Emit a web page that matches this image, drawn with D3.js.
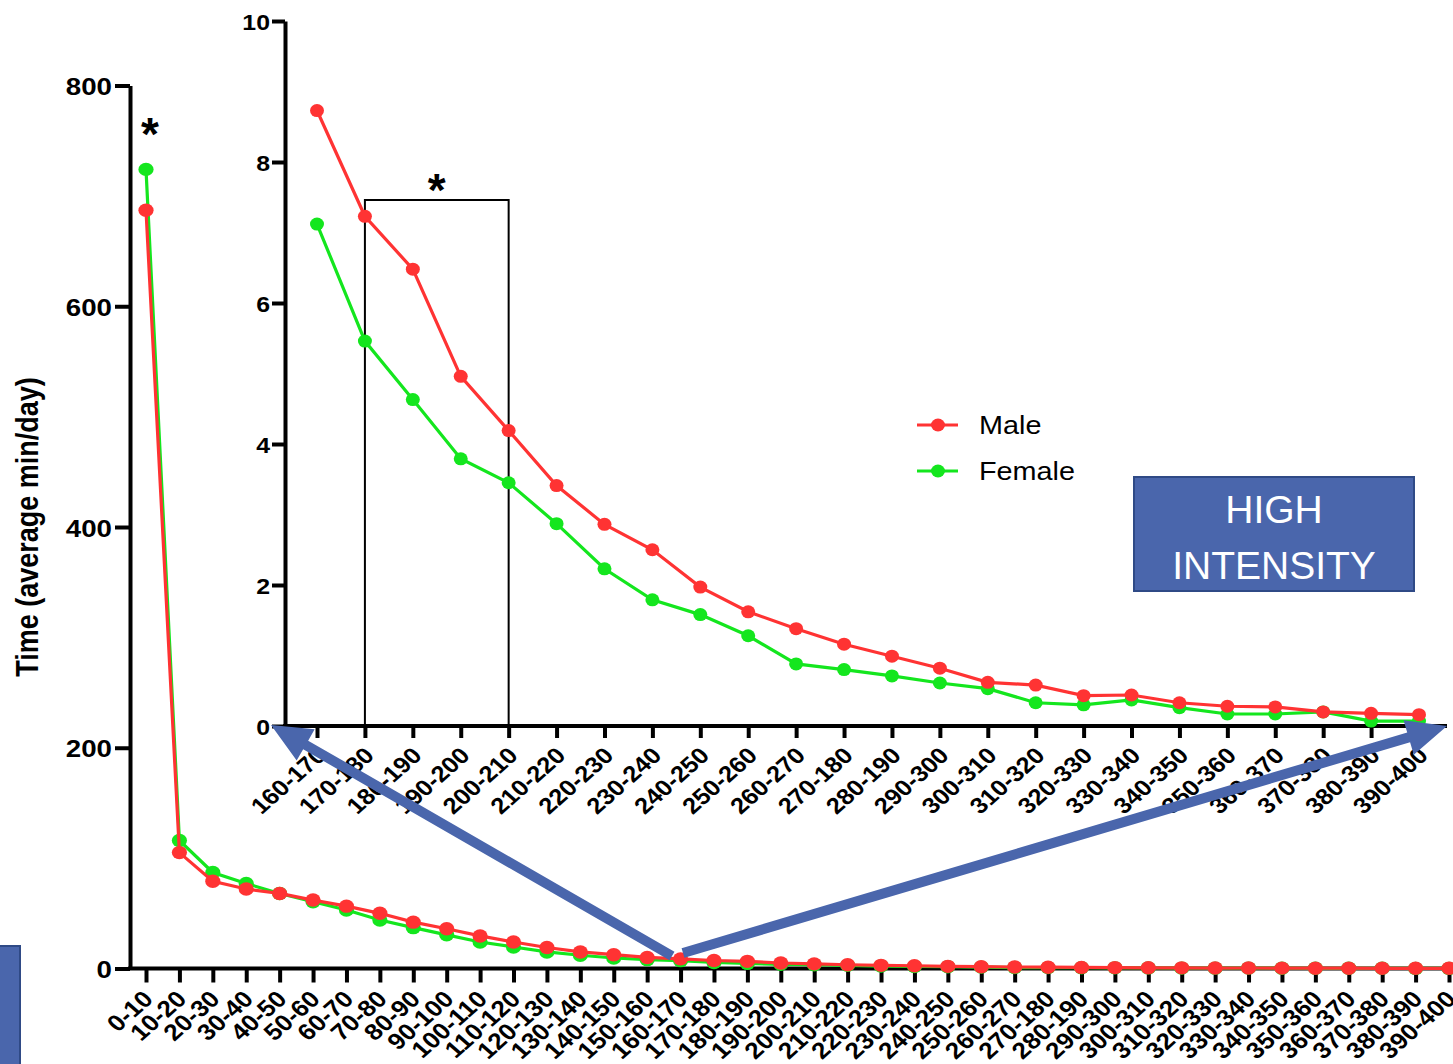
<!DOCTYPE html>
<html><head><meta charset="utf-8">
<script src="https://cdn.jsdelivr.net/npm/d3@7"></script>
<style>
body{margin:0;background:#fff}
svg{display:block}
text{font-family:"Liberation Sans",Arial,Helvetica,sans-serif}
</style>
</head><body>
<svg id="c" width="1453" height="1064"></svg>
<script>
const mainCategories = ["0-10","10-20","20-30","30-40","40-50","50-60","60-70","70-80","80-90","90-100","100-110","110-120","120-130","130-140","140-150","150-160","160-170","170-180","180-190","190-200","200-210","210-220","220-230","230-240","240-250","250-260","260-270","270-180","280-190","290-300","300-310","310-320","320-330","330-340","340-350","350-360","360-370","370-380","380-390","390-400"];
const insetCategories = mainCategories.slice(16);
const maleLow   = [687, 105, 79, 72, 68, 62, 56.5, 50, 42, 36, 29.5, 24, 19, 15, 12.5, 10];
const femaleLow = [724, 116, 87, 77, 68, 60.5, 53, 44, 37, 30.5, 24, 19.5, 15, 12, 9.5, 8];
const maleInset   = [8.73, 7.23, 6.48, 4.96, 4.19, 3.41, 2.86, 2.5, 1.97, 1.62, 1.38, 1.16, 0.99, 0.82, 0.62, 0.58, 0.43, 0.44, 0.33, 0.28, 0.27, 0.2, 0.18, 0.16];
const femaleInset = [7.12, 5.46, 4.63, 3.79, 3.45, 2.87, 2.23, 1.79, 1.58, 1.28, 0.88, 0.8, 0.71, 0.61, 0.53, 0.33, 0.3, 0.37, 0.26, 0.17, 0.17, 0.2, 0.07, 0.07];
const mainYTicks = [0, 200, 400, 600, 800];
const insetYTicks = [0, 2, 4, 6, 8, 10];
const seriesNames = ["Male", "Female"];
const seriesColors = {Male: "#ff3333", Female: "#14e61e"};
const yTitle = "Time (average min/day)";
const boxLines = ["HIGH", "INTENSITY"];

const maleMain = maleLow.concat(maleInset);
const femaleMain = femaleLow.concat(femaleInset);
const SX = 1.13; // horizontal stretch of the original figure

const svg = d3.select("#c");

// ---------- main chart ----------
const xM = d3.scalePoint().domain(mainCategories).range([146, 1449]);
const yM = d3.scaleLinear().domain([0, 800]).range([968.5, 85.5]);

const gMain = svg.append("g");
const yAxM = gMain.append("g").attr("transform", "translate(130,0)")
  .call(d3.axisLeft(yM).tickValues(mainYTicks).tickSize(15).tickSizeOuter(0).tickPadding(4));
yAxM.select(".domain").attr("stroke", "#000").attr("stroke-width", 4);
yAxM.selectAll(".tick line").attr("stroke", "#000").attr("stroke-width", 4);
yAxM.selectAll(".tick text").attr("font-size", 24.5).attr("font-weight", "bold").attr("fill", "#000")
  .attr("x", null).attr("dy", null)
  .attr("transform", "translate(-18,9) scale(" + SX + ",1)");
gMain.append("line").attr("x1", 128).attr("x2", 1453).attr("y1", 968.5).attr("y2", 968.5)
  .attr("stroke", "#000").attr("stroke-width", 4);
const xAxM = gMain.append("g").attr("transform", "translate(0,968.5)")
  .call(d3.axisBottom(xM).tickSize(14).tickSizeOuter(0));
xAxM.select(".domain").remove();
xAxM.selectAll(".tick line").attr("stroke", "#000").attr("stroke-width", 4);
xAxM.selectAll(".tick text").attr("font-size", 23).attr("font-weight", "bold").attr("fill", "#000")
  .attr("y", 0).attr("dy", 0).attr("text-anchor", "end")
  .attr("transform", "translate(8,32) scale(" + SX + ",1) rotate(-45)");

svg.append("text").attr("font-size", 27).attr("font-weight", "bold").attr("text-anchor", "middle")
  .attr("transform", "translate(38,527) scale(" + SX + ",1) rotate(-90)").text(yTitle);

function drawSeries(g, x, y, cats, vals, color, rx, ry) {
  const data = cats.map((c, i) => ({c, v: vals[i]}));
  g.append("path").datum(data)
    .attr("d", d3.line().x(d => x(d.c)).y(d => y(d.v)))
    .attr("fill", "none").attr("stroke", color).attr("stroke-width", 3.2);
  g.selectAll(null).data(data).enter().append("ellipse")
    .attr("cx", d => x(d.c)).attr("cy", d => y(d.v)).attr("rx", rx).attr("ry", ry)
    .attr("fill", color);
}
drawSeries(gMain, xM, yM, mainCategories, femaleMain, seriesColors.Female, 7.6, 6.7);
drawSeries(gMain, xM, yM, mainCategories, maleMain, seriesColors.Male, 7.6, 6.7);

svg.append("text").attr("x", xM("0-10") + 4).attr("y", 150).attr("font-size", 46).attr("font-weight", "bold")
  .attr("text-anchor", "middle").text("*");

// ---------- inset ----------
const xI = d3.scalePoint().domain(insetCategories).range([317, 1419]);
const yI = d3.scaleLinear().domain([0, 10]).range([726, 21]);
const gIn = svg.append("g");
const yAxI = gIn.append("g").attr("transform", "translate(285,0)")
  .call(d3.axisLeft(yI).tickValues(insetYTicks).tickSize(13).tickSizeOuter(0).tickPadding(3));
yAxI.select(".domain").attr("stroke", "#000").attr("stroke-width", 4);
yAxI.selectAll(".tick line").attr("stroke", "#000").attr("stroke-width", 4);
yAxI.selectAll(".tick text").attr("font-size", 22).attr("font-weight", "bold").attr("fill", "#000")
  .attr("x", null).attr("dy", null)
  .attr("transform", "translate(-15,8) scale(" + SX + ",1)");
gIn.append("line").attr("x1", 283).attr("x2", 1447).attr("y1", 726).attr("y2", 726)
  .attr("stroke", "#000").attr("stroke-width", 4);
const xAxI = gIn.append("g").attr("transform", "translate(0,726)")
  .call(d3.axisBottom(xI).tickSize(12).tickSizeOuter(0));
xAxI.select(".domain").remove();
xAxI.selectAll(".tick line").attr("stroke", "#000").attr("stroke-width", 4);
xAxI.selectAll(".tick text").attr("font-size", 22.5).attr("font-weight", "bold").attr("fill", "#000")
  .attr("y", 0).attr("dy", 0).attr("text-anchor", "end")
  .attr("transform", "translate(10,31) scale(" + SX + ",1) rotate(-45)");

gIn.append("path")
  .attr("d", `M${xI("170-180")},${yI(0)} V200 H${xI("200-210")} V${yI(0)}`)
  .attr("fill", "none").attr("stroke", "#000").attr("stroke-width", 2);
gIn.append("text").attr("x", (xI("170-180") + xI("200-210")) / 2).attr("y", 206)
  .attr("font-size", 46).attr("font-weight", "bold").attr("text-anchor", "middle").text("*");

drawSeries(gIn, xI, yI, insetCategories, femaleInset, seriesColors.Female, 7, 6.5);
drawSeries(gIn, xI, yI, insetCategories, maleInset, seriesColors.Male, 7, 6.5);

seriesNames.forEach((s, i) => {
  const y = 425 + i * 46;
  const g = svg.append("g");
  g.append("line").attr("x1", 917).attr("x2", 958).attr("y1", y).attr("y2", y)
    .attr("stroke", seriesColors[s]).attr("stroke-width", 3);
  g.append("ellipse").attr("cx", 938).attr("cy", y).attr("rx", 7).attr("ry", 6.5).attr("fill", seriesColors[s]);
  g.append("text").attr("transform", `translate(979,${y + 9}) scale(${SX},1)`)
    .attr("font-size", 25.5).attr("fill", "#000").text(s);
});

// ---------- annotations ----------
const blue = "#4a66ac";
function arrow(x0, y0, x1, y1, w, hl, hw) {
  const dx = x1 - x0, dy = y1 - y0, L = Math.hypot(dx, dy);
  const ux = dx / L, uy = dy / L, nx = -uy, ny = ux;
  const bx = x1 - ux * hl, by = y1 - uy * hl;
  const pts = [
    [x0 + nx * w / 2, y0 + ny * w / 2], [bx + nx * w / 2, by + ny * w / 2],
    [bx + nx * hw / 2, by + ny * hw / 2], [x1, y1],
    [bx - nx * hw / 2, by - ny * hw / 2], [bx - nx * w / 2, by - ny * w / 2],
    [x0 - nx * w / 2, y0 - ny * w / 2]];
  svg.append("polygon").attr("points", pts.map(p => p.join(",")).join(" ")).attr("fill", blue);
}
arrow(672, 956, 271, 725, 10, 40, 36);
arrow(683, 953, 1447, 726, 10, 40, 36);

svg.append("rect").attr("x", 1134).attr("y", 477).attr("width", 280).attr("height", 114)
  .attr("fill", blue).attr("stroke", "#2f4a86").attr("stroke-width", 2);
boxLines.forEach((t, i) => {
  svg.append("text").attr("x", 1274).attr("y", 523 + i * 56).attr("text-anchor", "middle")
    .attr("font-family", "Lato, 'Open Sans', sans-serif").attr("font-weight", 300)
    .attr("font-size", 39).attr("fill", "#fff").text(t);
});
svg.append("rect").attr("x", -4).attr("y", 946).attr("width", 24).attr("height", 130)
  .attr("fill", blue).attr("stroke", "#2f4a86").attr("stroke-width", 2);
</script>
</body></html>
